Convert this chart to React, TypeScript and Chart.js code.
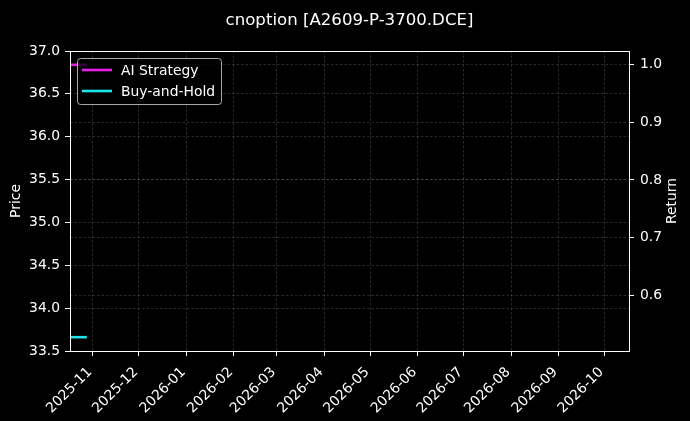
import { useEffect, useRef } from "react";
import { Chart, registerables } from "chart.js";

Chart.register(...registerables);

// ---- data ----
const chartTitle = "cnoption [A2609-P-3700.DCE]";
const tradeDates = [
  "2025-10-17",
  "2025-10-20",
  "2025-10-21",
  "2025-10-22",
  "2025-10-23",
  "2025-10-24",
  "2025-10-27",
  "2025-10-28",
];
const aiStrategy = [1.0, 1.0, 1.0, 1.0, 1.0, 1.0, 1.0, 1.0];
const buyAndHold = [0.527, 0.527, 0.527, 0.527, 0.527, 0.527, 0.527, 0.527];

const xStart = "2025-10-17";
const xEnd = "2026-10-17";
const monthTicks = [
  "2025-11",
  "2025-12",
  "2026-01",
  "2026-02",
  "2026-03",
  "2026-04",
  "2026-05",
  "2026-06",
  "2026-07",
  "2026-08",
  "2026-09",
  "2026-10",
];
const priceTicks = [33.5, 34.0, 34.5, 35.0, 35.5, 36.0, 36.5, 37.0];
const returnTicks = [0.6, 0.7, 0.8, 0.9, 1.0];
const returnMin = 0.503;
const returnMax = 1.024;

const FONT = "'DejaVu Sans', sans-serif";
const FS = 13.9;
const gridColor = "rgba(128,128,128,0.4)";

const toMs = (d: string) => Date.parse(d.length === 7 ? d + "-01" : d);
const fmtMonth = (v: number) => new Date(v).toISOString().slice(0, 7);

const bgPlugin = {
  id: "bg",
  beforeDraw(chart: any) {
    const { ctx, width, height } = chart;
    ctx.save();
    ctx.fillStyle = "#000";
    ctx.fillRect(0, 0, width, height);
    ctx.restore();
  },
};

const framePlugin = {
  id: "frame",
  afterDraw(chart: any) {
    const { ctx, chartArea: a } = chart;
    ctx.save();
    ctx.strokeStyle = "#fff";
    ctx.lineWidth = 1;
    ctx.strokeRect(Math.round(a.left) + 0.5, Math.round(a.top) + 0.5, Math.round(a.right - a.left), Math.round(a.bottom - a.top));

    // title
    ctx.fillStyle = "#fff";
    ctx.font = `16.6px ${FONT}`;
    ctx.textAlign = "center";
    ctx.textBaseline = "alphabetic";
    ctx.fillText(chartTitle, 349.5, 25);

    // right axis label, reads bottom to top
    ctx.save();
    ctx.translate(672, (a.top + a.bottom) / 2);
    ctx.rotate(-Math.PI / 2);
    ctx.font = `${FS}px ${FONT}`;
    ctx.textBaseline = "middle";
    ctx.fillText("Return", 0, 0);
    ctx.restore();

    // legend in upper left
    const x0 = a.left + 7;
    const y0 = a.top + 7;
    const w = 144;
    const h = 46;
    ctx.beginPath();
    ctx.roundRect(x0 + 0.5, y0 + 0.5, w, h, 3);
    ctx.fillStyle = "rgba(0,0,0,0.8)";
    ctx.fill();
    ctx.strokeStyle = "rgba(210,210,210,0.8)";
    ctx.lineWidth = 1;
    ctx.stroke();
    ctx.font = `${FS}px ${FONT}`;
    ctx.textAlign = "left";
    ctx.textBaseline = "middle";
    chart.data.datasets.forEach((ds: any, i: number) => {
      const y = y0 + 12 + i * 21;
      ctx.strokeStyle = ds.borderColor;
      ctx.lineWidth = 2.6;
      ctx.beginPath();
      ctx.moveTo(x0 + 5, y);
      ctx.lineTo(x0 + 35, y);
      ctx.stroke();
      ctx.fillStyle = "#fff";
      ctx.fillText(ds.label, x0 + 44, y + 1);
    });
    ctx.restore();
  },
};

export default function App() {
  const chartRef = useRef<HTMLCanvasElement>(null);
  const chartInstance = useRef<Chart | null>(null);

  useEffect(() => {
    if (!chartRef.current) return;
    const ctx = chartRef.current.getContext("2d");
    if (!ctx) return;

    const xs = tradeDates.map(toMs);
    const grid = { color: gridColor, lineWidth: 0.8, tickColor: "#fff", tickLength: 5, tickWidth: 1 };
    const border = { display: false, dash: [2.5, 2] };

    chartInstance.current = new Chart(ctx, {
      type: "line",
      data: {
        datasets: [
          {
            label: "AI Strategy",
            data: xs.map((x, i) => ({ x, y: aiStrategy[i] })),
            borderColor: "#e81ee8",
            borderWidth: 2.6,
            pointRadius: 0,
            yAxisID: "y1",
          },
          {
            label: "Buy-and-Hold",
            data: xs.map((x, i) => ({ x, y: buyAndHold[i] })),
            borderColor: "#1ee4ec",
            borderWidth: 2.6,
            pointRadius: 0,
            yAxisID: "y1",
          },
        ],
      },
      options: {
        responsive: false,
        animation: false,
        layout: { padding: { left: 0, right: 0, top: 51, bottom: 0 } },
        plugins: {
          legend: { display: false },
          title: { display: false },
          tooltip: { enabled: false },
        },
        scales: {
          x: {
            type: "linear",
            min: toMs(xStart),
            max: toMs(xEnd),
            afterBuildTicks: (s: any) => {
              s.ticks = monthTicks.map((m) => ({ value: toMs(m) }));
            },
            afterFit: (s: any) => {
              s.height = 70;
              s.paddingLeft = 0;
              s.paddingRight = 0;
            },
            ticks: {
              color: "#fff",
              font: { family: FONT, size: FS },
              minRotation: 45,
              maxRotation: 45,
              autoSkip: false,
              padding: 8,
              labelOffset: -3,
              callback: (v: any) => fmtMonth(Number(v)),
            },
            grid,
            border,
          },
          y: {
            type: "linear",
            position: "left",
            min: priceTicks[0],
            max: priceTicks[priceTicks.length - 1],
            afterBuildTicks: (s: any) => {
              s.ticks = priceTicks.map((v) => ({ value: v }));
            },
            afterFit: (s: any) => {
              s.width = 70;
              s.paddingTop = 0;
              s.paddingBottom = 0;
            },
            ticks: {
              color: "#fff",
              font: { family: FONT, size: FS },
              padding: 5,
              callback: (v: any) => Number(v).toFixed(1),
            },
            title: {
              display: true,
              text: "Price",
              color: "#fff",
              font: { family: FONT, size: FS },
              padding: { top: 8, bottom: 0 },
            },
            grid,
            border,
          },
          y1: {
            type: "linear",
            position: "right",
            min: returnMin,
            max: returnMax,
            afterBuildTicks: (s: any) => {
              s.ticks = returnTicks.map((v) => ({ value: v }));
            },
            afterFit: (s: any) => {
              s.width = 61;
              s.paddingTop = 0;
              s.paddingBottom = 0;
            },
            ticks: {
              color: "#fff",
              font: { family: FONT, size: FS },
              padding: 6,
              callback: (v: any) => Number(v).toFixed(1),
            },
            grid,
            border,
          },
        },
      },
      plugins: [bgPlugin, framePlugin],
    });

    return () => chartInstance.current?.destroy();
  }, []);

  return (
    <div style={{ position: "absolute", left: 0, top: 0, width: 690, height: 421, background: "#000" }}>
      <canvas ref={chartRef} width={690} height={421} />
    </div>
  );
}
